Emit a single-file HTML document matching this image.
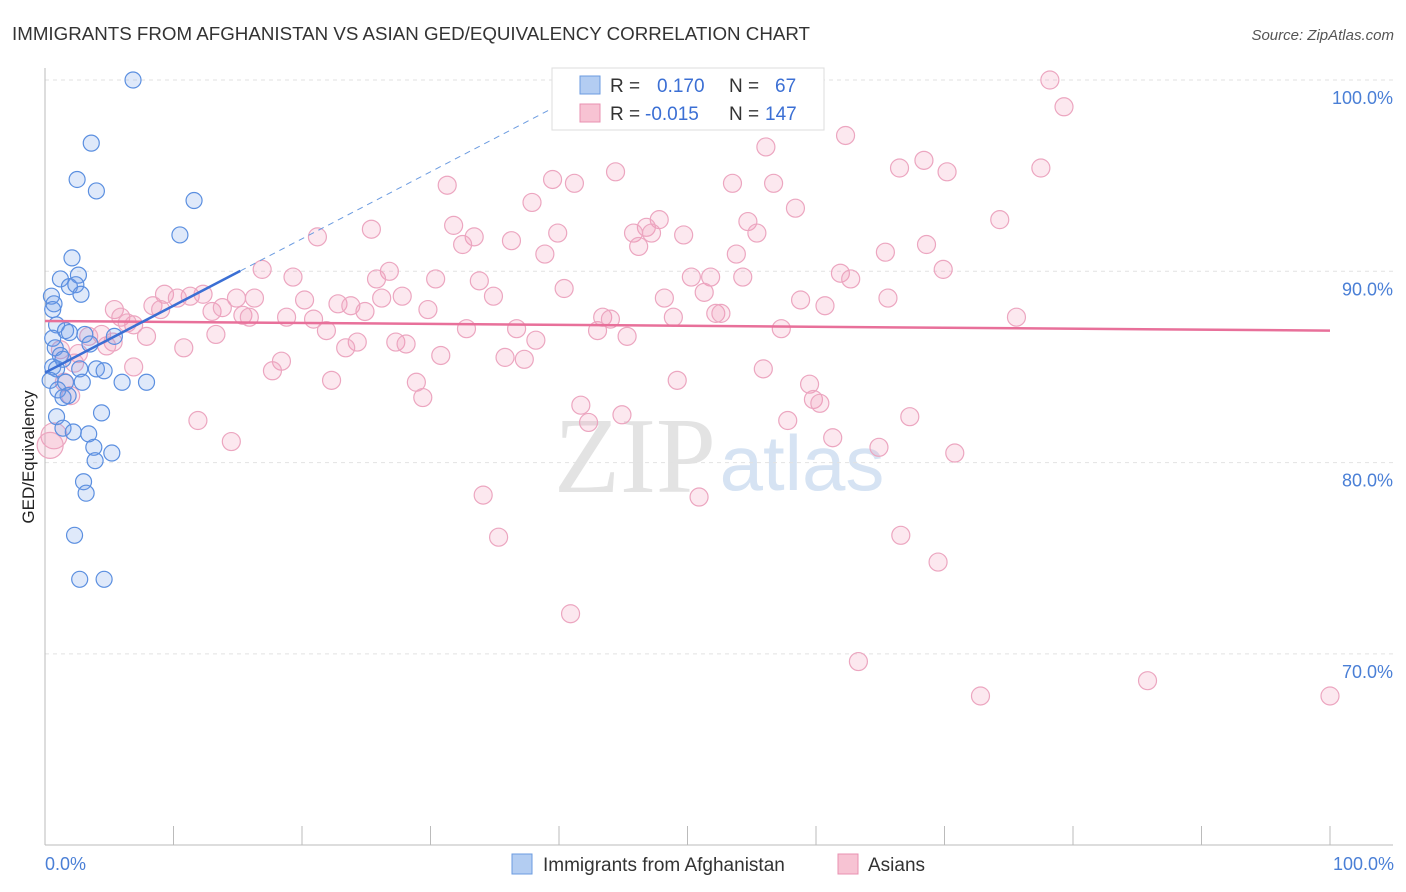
<!DOCTYPE html>
<html><head><meta charset="utf-8"><style>
body{margin:0;background:#fff;font-family:"Liberation Sans",sans-serif;}
svg{display:block}
</style></head><body>
<svg id="chart" width="1406" height="892" font-family="Liberation Sans, sans-serif">
<text x="12" y="40" font-size="18" fill="#333" textLength="798" lengthAdjust="spacingAndGlyphs">IMMIGRANTS FROM AFGHANISTAN VS ASIAN GED/EQUIVALENCY CORRELATION CHART</text>
<text x="1394" y="40" font-size="15" fill="#555" font-style="italic" text-anchor="end">Source: ZipAtlas.com</text>
<g><text x="635" y="492" font-size="108" fill="#e3e3e3" font-family="Liberation Serif, serif" text-anchor="middle">ZIP</text><text x="802" y="490" font-size="78" fill="#d6e3f3" text-anchor="middle">atlas</text></g>
<g id="grid"></g>
<g id="axes"></g>
<g id="marks"></g>
<text transform="translate(34,457) rotate(-90)" font-size="17" fill="#222" text-anchor="middle">GED/Equivalency</text>
<text x="45" y="870" font-size="18" fill="#4a7fd6">0.0%</text>
<text x="1394" y="870" font-size="18" fill="#4a7fd6" text-anchor="end">100.0%</text>
<g>
<rect x="552" y="68" width="272" height="62" fill="#fff" stroke="#ddd"/>
<rect x="580" y="76" width="20" height="18" fill="#b3cdf2" stroke="#6b9be0"/>
<text x="610" y="92" font-size="19" fill="#333">R = </text><text x="657" y="92" font-size="19" fill="#3b6fd4">0.170</text>
<text x="729" y="92" font-size="19" fill="#333">N = </text><text x="775" y="92" font-size="19" fill="#3b6fd4">67</text>
<rect x="580" y="104" width="20" height="18" fill="#f7c3d3" stroke="#e890b0"/>
<text x="610" y="120" font-size="19" fill="#333">R = </text><text x="645" y="120" font-size="19" fill="#3b6fd4">-0.015</text>
<text x="729" y="120" font-size="19" fill="#333">N = </text><text x="765" y="120" font-size="19" fill="#3b6fd4">147</text>
</g>
<g>
<rect x="512" y="854" width="20" height="20" fill="#b3cdf2" stroke="#6b9be0"/>
<text x="543" y="871" font-size="19" fill="#333">Immigrants from Afghanistan</text>
<rect x="838" y="854" width="20" height="20" fill="#f7c3d3" stroke="#e890b0"/>
<text x="868" y="871" font-size="19" fill="#333">Asians</text>
</g>
</svg>
<script>
const yTicks=[100,90,80,70];
const yTickLabels=["100.0%","90.0%","80.0%","70.0%"];
const xTicks=[0,10,20,30,40,50,60,70,80,90,100];
const blueX=[6.85,3.6,2.5,4.0,11.6,10.5,2.1,2.6,1.2,1.9,2.4,2.8,0.5,0.7,0.6,0.9,1.6,1.9,3.1,5.4,0.6,3.5,0.8,1.2,1.4,0.6,0.9,2.7,4.0,4.6,0.4,1.6,2.9,6.0,7.9,1.0,1.8,1.4,4.4,0.9,1.4,2.2,3.4,3.8,3.9,5.2,3.0,3.2,2.3,2.7,4.6];
const blueY=[100,96.7,94.8,94.2,93.7,91.9,90.7,89.8,89.6,89.2,89.3,88.8,88.7,88.3,88.0,87.2,86.9,86.8,86.7,86.6,86.5,86.2,86.0,85.6,85.4,85.0,84.9,84.9,84.9,84.8,84.3,84.2,84.2,84.2,84.2,83.8,83.5,83.4,82.6,82.4,81.8,81.6,81.5,80.8,80.1,80.5,79.0,78.4,76.2,73.9,73.9];
const pinkX=[78.2,79.3,62.3,56.1,68.4,66.5,77.5,44.4,70.2,39.5,41.2,53.5,56.7,31.3,37.9,58.4,47.8,54.7,74.3,31.8,25.4,46.8,45.8,47.2,55.4,39.9,33.4,49.7,21.2,32.5,36.3,68.6,38.9,46.2,65.4,53.8,16.9,26.8,69.9,61.9,50.3,51.8,54.3,19.3,25.8,30.4,33.8,62.7,40.4,9.3,11.3,12.3,10.3,14.9,16.3,20.2,26.2,27.8,34.9,48.2,51.3,65.6,58.8,8.4,9.0,13.0,13.8,22.8,23.8,24.9,29.8,60.7,5.4,5.9,15.4,15.9,18.8,20.9,48.9,43.4,44.0,52.2,52.6,75.6,6.9,6.4,21.9,32.8,36.7,43.0,57.3,13.3,4.4,7.9,3.4,5.3,24.3,27.3,28.1,45.3,38.2,23.4,10.8,4.8,2.6,30.8,35.8,37.3,18.4,6.9,17.7,55.9,22.3,49.2,28.9,59.5,29.4,59.8,60.3,41.7,67.3,57.8,44.9,42.3,11.9,61.3,14.5,64.9,70.8,0.7,0.4,34.1,50.9,35.3,66.6,69.5,40.9,63.3,72.8,85.8,100,1.5,2.0,1.2,2.3];
const pinkY=[100,98.6,97.1,96.5,95.8,95.4,95.4,95.2,95.2,94.8,94.6,94.6,94.6,94.5,93.6,93.3,92.7,92.6,92.7,92.4,92.2,92.3,92.0,92.0,92.0,92.0,91.8,91.9,91.8,91.4,91.6,91.4,90.9,91.3,91.0,90.9,90.1,90.0,90.1,89.9,89.7,89.7,89.7,89.7,89.6,89.6,89.5,89.6,89.1,88.8,88.7,88.8,88.6,88.6,88.6,88.5,88.6,88.7,88.7,88.6,88.9,88.6,88.5,88.2,88.0,87.9,88.1,88.3,88.2,87.9,88.0,88.2,88.0,87.6,87.7,87.6,87.6,87.5,87.6,87.6,87.5,87.8,87.8,87.6,87.2,87.3,86.9,87.0,87.0,86.9,87.0,86.7,86.7,86.6,86.6,86.3,86.3,86.3,86.2,86.6,86.4,86.0,86.0,86.1,85.7,85.6,85.5,85.4,85.3,85.0,84.8,84.9,84.3,84.3,84.2,84.1,83.4,83.3,83.1,83.0,82.4,82.2,82.5,82.1,82.2,81.3,81.1,80.8,80.5,81.4,80.9,78.3,78.2,76.1,76.2,74.8,72.1,69.6,67.8,68.6,67.8,84.2,83.5,85.9,85.2];
const blueTrend=[84.7,0.35];
const pinkTrend=[87.4,-0.005];
const NS="http://www.w3.org/2000/svg";
const X=v=>45+v*12.85;
const Y=v=>80+(100-v)*19.13;
function mk(tag,attrs,parent){const e=document.createElementNS(NS,tag);for(const k in attrs)e.setAttribute(k,attrs[k]);parent.appendChild(e);return e;}
const grid=document.getElementById('grid'),axes=document.getElementById('axes'),marks=document.getElementById('marks');
yTicks.forEach((t,i)=>{
 const l=mk('line',{x1:45,x2:1393,y1:Y(t),y2:Y(t),stroke:'#e2e2e2','stroke-dasharray':'4,4'},grid);
 
 
 const tx=mk('text',{x:1393,y:Y(t)+24,'font-size':18,fill:'#4a7fd6','text-anchor':'end'},axes);
 tx.textContent=yTickLabels[i];
 
 
});
const al=mk('line',{x1:45,x2:45,y1:68,y2:845,stroke:'#bbb'},axes);


const xl=mk('line',{x1:45,x2:1393,y1:845,y2:845,stroke:'#bbb'},axes);


xTicks.forEach(t=>{
 const l=mk('line',{x1:X(t),x2:X(t),y1:826,y2:845,stroke:'#bbb'},axes);
 
 
});
pinkX.forEach((x,i)=>{
 const c=mk('circle',{cx:X(x),cy:Y(pinkY[i]),r:(x<2&&pinkY[i]<82)?13:9,fill:'rgba(240,150,180,0.22)',stroke:'#eca6c0','stroke-width':1.2},marks);
 
 
});
blueX.forEach((x,i)=>{
 const c=mk('circle',{cx:X(x),cy:Y(blueY[i]),r:8,fill:'rgba(110,155,230,0.22)',stroke:'#5b8fe0','stroke-width':1.2},marks);
 
 
});
const pl=mk('line',{x1:X(0),y1:Y(pinkTrend[0]),x2:X(100),y2:Y(pinkTrend[0]+pinkTrend[1]*100),stroke:'#e8709a','stroke-width':2.5},marks);


const bl=mk('line',{x1:X(0),y1:Y(blueTrend[0]),x2:X(15.2),y2:Y(blueTrend[0]+blueTrend[1]*15.2),stroke:'#3b6fd4','stroke-width':2.5},marks);


const bd=mk('line',{x1:X(15.2),y1:Y(blueTrend[0]+blueTrend[1]*15.2),x2:X(42.5),y2:Y(blueTrend[0]+blueTrend[1]*42.5),stroke:'#6b9be0','stroke-width':1,'stroke-dasharray':'6,5'},marks);


</script>
</body></html>
